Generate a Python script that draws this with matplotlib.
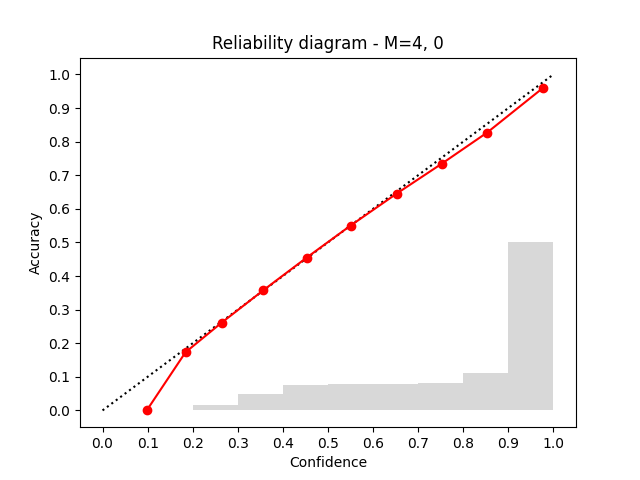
import numpy as np
import matplotlib
matplotlib.use("Agg")
import matplotlib.pyplot as plt

# bin edges / histogram of confidences
bin_lefts = [0.1, 0.2, 0.3, 0.4, 0.5, 0.6, 0.7, 0.8, 0.9]
bin_frac = [0.0, 0.015, 0.049, 0.075, 0.080, 0.078, 0.083, 0.111, 0.500]

# mean confidence vs accuracy per bin
conf = [0.098, 0.184, 0.264, 0.356, 0.453, 0.550, 0.652, 0.752, 0.853, 0.977]
acc = [0.0, 0.173, 0.261, 0.357, 0.455, 0.550, 0.645, 0.734, 0.827, 0.960]

ticks = np.round(np.arange(0, 1.01, 0.1), 1)

plt.figure(figsize=(6.4, 4.8), dpi=100)
plt.bar(bin_lefts, bin_frac, width=0.1, align="edge", color="gray", alpha=0.3)
plt.plot([0, 1], [0, 1], "k:")
plt.plot(conf, acc, "o-", color="red")
plt.xticks(ticks)
plt.yticks(ticks)
plt.xlim(-0.05, 1.05)
plt.ylim(-0.05, 1.05)
plt.xlabel("Confidence")
plt.ylabel("Accuracy")
plt.title("Reliability diagram - M=4, 0")
plt.savefig("out.png")
